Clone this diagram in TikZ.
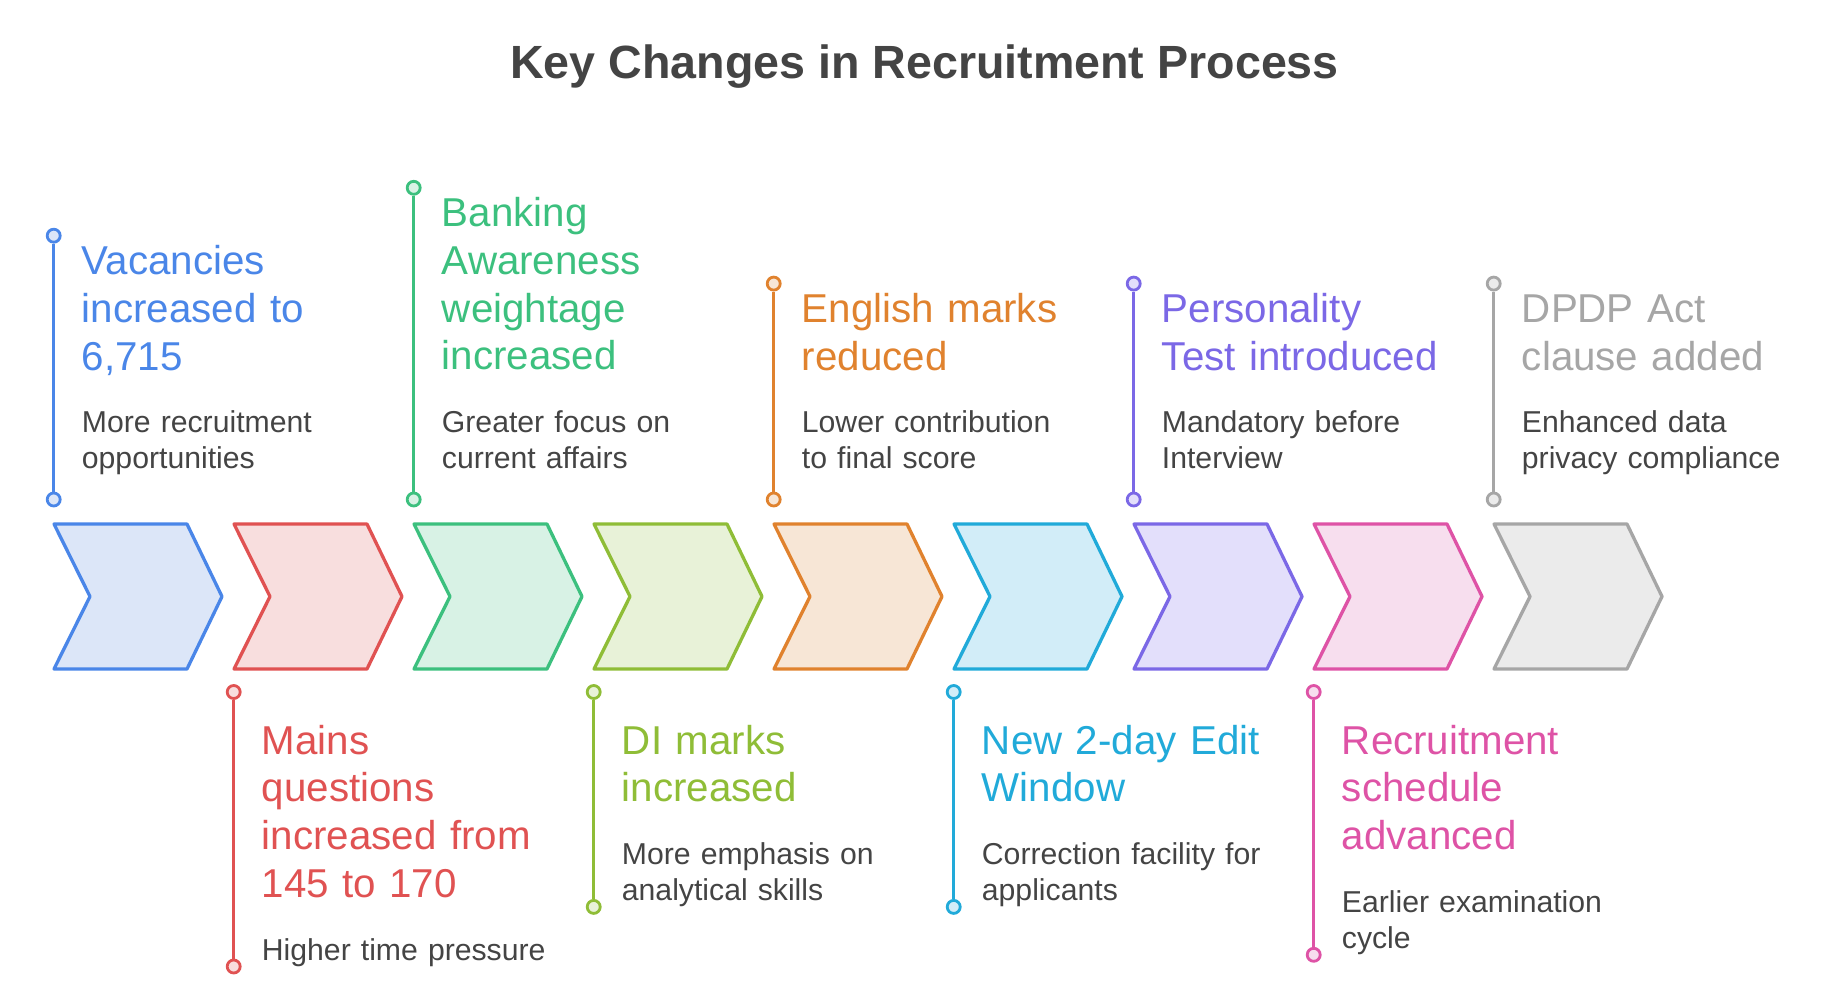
\documentclass[tikz,border=0pt]{standalone}
\usepackage{fontspec}
\setmainfont{Liberation Sans}
\definecolor{txt}{HTML}{444444}
\definecolor{cA}{HTML}{4A86E8}\definecolor{fA}{HTML}{DCE6F8}
\definecolor{cB}{HTML}{E05252}\definecolor{fB}{HTML}{F8DEDE}
\definecolor{cC}{HTML}{3CC07E}\definecolor{fC}{HTML}{D8F2E5}
\definecolor{cD}{HTML}{8FBD37}\definecolor{fD}{HTML}{E8F2D8}
\definecolor{cE}{HTML}{E0822E}\definecolor{fE}{HTML}{F7E6D6}
\definecolor{cF}{HTML}{21AAD9}\definecolor{fF}{HTML}{D2EDF8}
\definecolor{cG}{HTML}{7B68E6}\definecolor{fG}{HTML}{E3DFFB}
\definecolor{cH}{HTML}{DE53A6}\definecolor{fH}{HTML}{F7DEEE}
\definecolor{cI}{HTML}{A6A6A6}\definecolor{fI}{HTML}{EBEBEB}
\begin{document}
\begin{tikzpicture}[x=1pt,y=-1pt,
  hd/.style={anchor=base west, inner sep=0pt, text width=290pt, align=left, font=\fontsize{40.3}{47.9}\selectfont},
  ds/.style={anchor=base west, inner sep=0pt, text width=290pt, align=left, font=\fontsize{30.2}{36.2}\selectfont, text=txt},
  dot/.style={circle, inner sep=0pt, minimum size=13pt, line width=2.8pt},
  stem/.style={line width=3.2pt},
  chev/.style={line width=3.3pt, line join=round}]
\useasboundingbox (0,0) rectangle (1830,995);
\node[anchor=base, inner sep=0pt, font=\fontsize{46.6}{56}\selectfont\bfseries, text=txt] (title) at (924.5,79) {Key Changes in Recruitment Process};

% chevrons
\foreach \i/\c in {0/A,1/B,2/C,3/D,4/E,5/F,6/G,7/H,8/I}{
  \draw[chev, draw=c\c, fill=f\c] ({54+180*\i},524) -- ({187+180*\i},524) -- ({222+180*\i},596.5) -- ({187+180*\i},669) -- ({54+180*\i},669) -- ({90+180*\i},596.5) -- cycle;
}

% item 0 (top)
\node[hd, text=cA] (h0) at (81.7,274.2) {Vacancies\\increased to\\6,715};
\node[ds] (d0) at (81.7,432.5) {More recruitment\\opportunities};
\node[dot, draw=cA, fill=fA] (p0a) at (53.7,235.7) {};
\node[dot, draw=cA, fill=fA] (p0b) at (53.7,499.5) {};
\draw[stem, cA] (p0a) -- (p0b);

% item 1 (bottom)
\node[hd, text=cB] (h1) at (261.7,754) {Mains\\questions\\increased from\\145 to 170};
\node[ds] (d1) at (261.7,960.2) {Higher time pressure};
\node[dot, draw=cB, fill=fB] (p1a) at (233.7,692) {};
\node[dot, draw=cB, fill=fB] (p1b) at (233.7,966.5) {};
\draw[stem, cB] (p1a) -- (p1b);

% item 2 (top)
\node[hd, text=cC] (h2) at (441.7,226.3) {Banking\\Awareness\\weightage\\increased};
\node[ds] (d2) at (441.7,432.5) {Greater focus on\\current affairs};
\node[dot, draw=cC, fill=fC] (p2a) at (413.7,187.8) {};
\node[dot, draw=cC, fill=fC] (p2b) at (413.7,499.5) {};
\draw[stem, cC] (p2a) -- (p2b);

% item 3 (bottom)
\node[hd, text=cD] (h3) at (621.7,754) {DI marks\\increased};
\node[ds] (d3) at (621.7,864.4) {More emphasis on\\analytical skills};
\node[dot, draw=cD, fill=fD] (p3a) at (593.7,692) {};
\node[dot, draw=cD, fill=fD] (p3b) at (593.7,906.9) {};
\draw[stem, cD] (p3a) -- (p3b);

% item 4 (top)
\node[hd, text=cE] (h4) at (801.7,322.1) {English marks\\reduced};
\node[ds] (d4) at (801.7,432.5) {Lower contribution\\to final score};
\node[dot, draw=cE, fill=fE] (p4a) at (773.7,283.6) {};
\node[dot, draw=cE, fill=fE] (p4b) at (773.7,499.5) {};
\draw[stem, cE] (p4a) -- (p4b);

% item 5 (bottom)
\node[hd, text=cF] (h5) at (981.7,754) {New 2-day Edit\\Window};
\node[ds] (d5) at (981.7,864.4) {Correction facility for\\applicants};
\node[dot, draw=cF, fill=fF] (p5a) at (953.7,692) {};
\node[dot, draw=cF, fill=fF] (p5b) at (953.7,906.9) {};
\draw[stem, cF] (p5a) -- (p5b);

% item 6 (top)
\node[hd, text=cG] (h6) at (1161.7,322.1) {Personality\\Test introduced};
\node[ds] (d6) at (1161.7,432.5) {Mandatory before\\Interview};
\node[dot, draw=cG, fill=fG] (p6a) at (1133.7,283.6) {};
\node[dot, draw=cG, fill=fG] (p6b) at (1133.7,499.5) {};
\draw[stem, cG] (p6a) -- (p6b);

% item 7 (bottom)
\node[hd, text=cH] (h7) at (1341.7,754) {Recruitment\\schedule\\advanced};
\node[ds] (d7) at (1341.7,912.3) {Earlier examination\\cycle};
\node[dot, draw=cH, fill=fH] (p7a) at (1313.7,692) {};
\node[dot, draw=cH, fill=fH] (p7b) at (1313.7,954.8) {};
\draw[stem, cH] (p7a) -- (p7b);

% item 8 (top)
\node[hd, text=cI] (h8) at (1521.7,322.1) {DPDP Act\\clause added};
\node[ds] (d8) at (1521.7,432.5) {Enhanced data\\privacy compliance};
\node[dot, draw=cI, fill=fI] (p8a) at (1493.7,283.6) {};
\node[dot, draw=cI, fill=fI] (p8b) at (1493.7,499.5) {};
\draw[stem, cI] (p8a) -- (p8b);
\end{tikzpicture}
\end{document}
